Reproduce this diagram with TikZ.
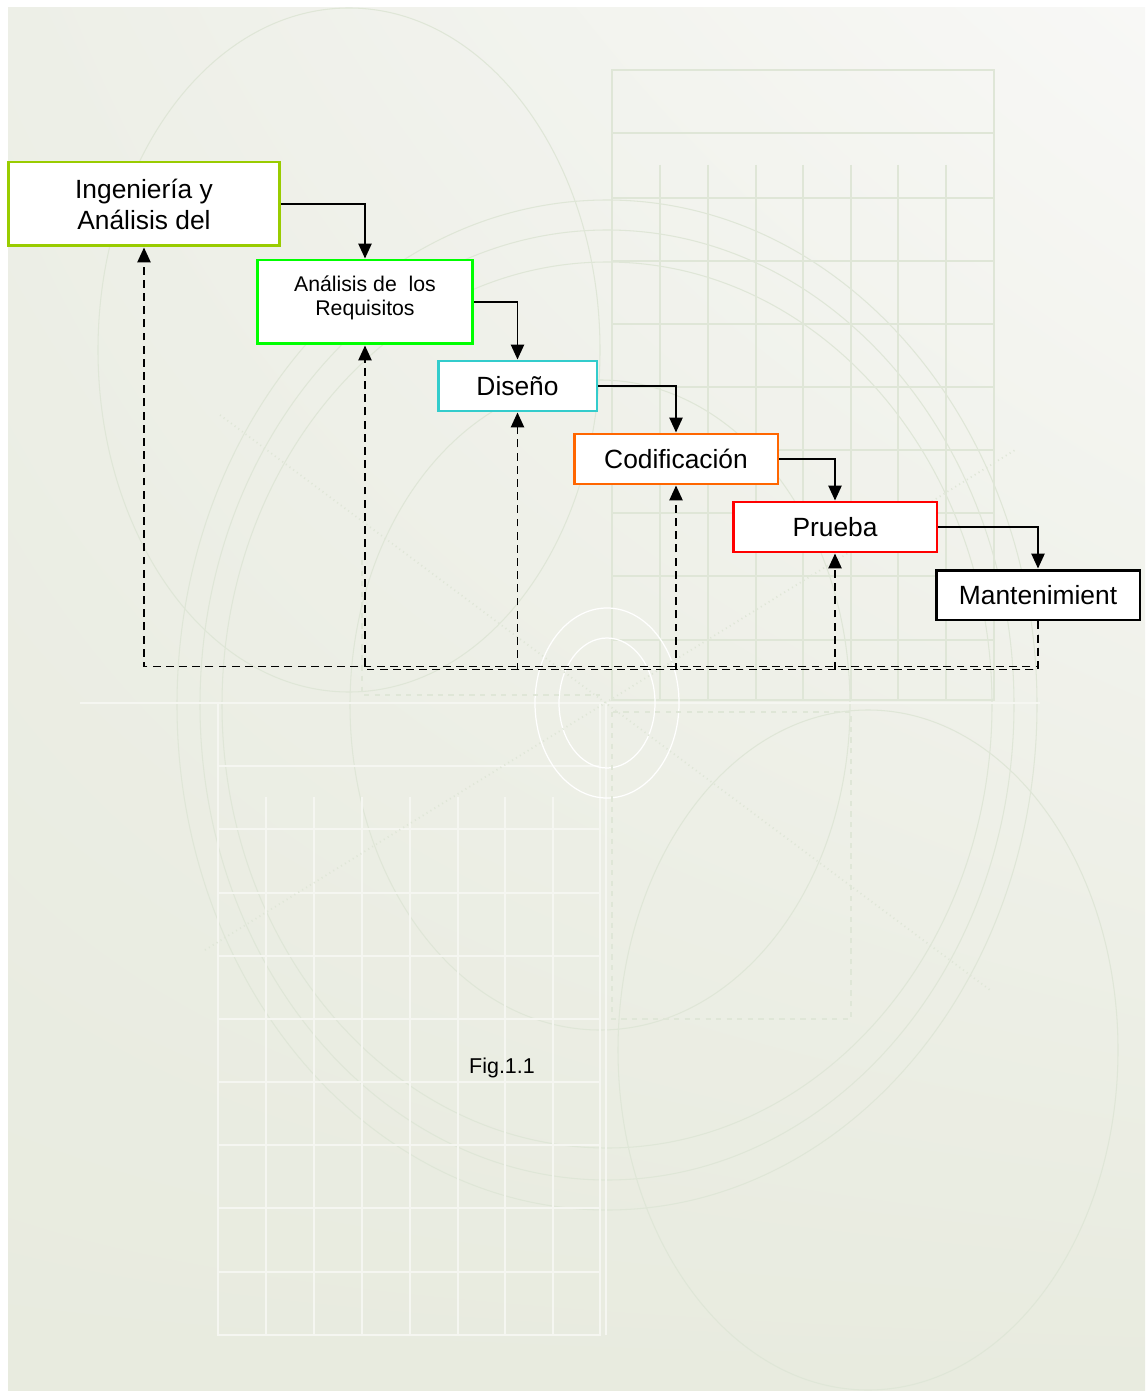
\documentclass[tikz,border=0pt]{standalone}
\usepackage{fontspec}
\setmainfont{Liberation Sans}
\usetikzlibrary{arrows.meta,shadings}
\definecolor{bgclaro}{HTML}{F8F8F6}
\definecolor{bgmedio}{HTML}{EDEFE7}
\definecolor{bgoscuro}{HTML}{E8EBDF}
\definecolor{trazo}{HTML}{DFE6D7}
\definecolor{rejilla}{HTML}{F5F6F1}
\definecolor{verdelima}{HTML}{99CC00}
\definecolor{verde}{HTML}{00FF00}
\definecolor{turquesa}{HTML}{33CCCC}
\definecolor{naranja}{HTML}{FF6600}
\definecolor{rojo}{HTML}{FF0000}
\begin{document}
\begin{tikzpicture}[x=0.02cm,y=-0.02cm,
    etapa/.style={draw,fill=white,line width=1.7pt,inner sep=0pt,align=center,
      minimum width=4.08cm,minimum height=1cm,font=\fontsize{15}{17.6}\selectfont},
    flecha/.style={-{Triangle[width=7.5pt,length=8.5pt]},line width=1.1pt},
    retro/.style={flecha,dash pattern=on 4.5pt off 3pt},
    fondo/.style={draw=trazo,line width=0.6pt},
    blanco/.style={draw=rejilla,line width=0.7pt}]
    \useasboundingbox (0,0) rectangle (1145,1391);
    % ---- fondo ----
    \shade[upper left=bgmedio,upper right=bgclaro,lower left=bgoscuro,lower right=bgoscuro]
      (8,8) rectangle (1145,1390);
    \draw[fondo] (349,350) ellipse [x radius=251, y radius=342];
    \foreach \rx/\ry in {430/505,407/475,385/443}
      \draw[fondo] (607,705) ellipse [x radius=\rx, y radius=\ry];
    \draw[fondo] (600,705) ellipse [x radius=250, y radius=325];
    \draw[fondo] (868,1050) ellipse [x radius=250, y radius=340];
    \draw[fondo] (612,70) rectangle (994,700);
    \draw[fondo] (612,133) -- (994,133);
    \foreach \x in {660,708,756,803,851,898,946}
      \draw[fondo] (\x,165) -- (\x,700);
    \foreach \y in {198,261,324,387,450,513,576,640}
      \draw[fondo] (612,\y) -- (994,\y);
    \draw[blanco] (218,703) rectangle (600,1335);
    \draw[blanco] (606,703) -- (606,1335);
    \foreach \x in {266,314,362,410,458,505,553}
      \draw[blanco] (\x,797) -- (\x,1335);
    \foreach \y in {766,829,893,956,1019,1082,1145,1208,1272}
      \draw[blanco] (218,\y) -- (600,\y);
    \draw[blanco,line width=1pt] (80,703) -- (1040,703);
    \draw[white,line width=0.7pt] (607,703) ellipse [x radius=72, y radius=95];
    \draw[white,line width=0.7pt] (607,703) ellipse [x radius=48, y radius=65];
    \draw[fondo,dashed,line width=1pt] (612,712) rectangle (851,1019);
    \draw[fondo,dashed,line width=1pt] (362,560) -- (362,695) -- (600,695);
    \draw[fondo,dotted,line width=1pt] (220,415) -- (990,990);
    \draw[fondo,dotted,line width=1pt] (205,950) -- (1015,450);
    % ---- etapas ----
    \node[etapa,draw=verdelima,minimum width=5.44cm,minimum height=1.68cm] (ing) at (144,204)
      {Ingeniería y\\Análisis del};
    \node[etapa,draw=verde,minimum width=4.32cm,minimum height=1.68cm,
      font=\fontsize{12.1}{13.6}\selectfont] (req) at (365,302) {Análisis de\ \ los\\Requisitos\\[-6.8pt]};
    \node[etapa,draw=turquesa,minimum width=3.18cm] (dis) at (517.5,386) {Diseño};
    \node[etapa,draw=naranja] (cod) at (676,459) {Codificación};
    \node[etapa,draw=rojo] (pru) at (835,527) {Prueba};
    \node[etapa,draw=black] (man) at (1038,595) {Mantenimient};
    \node[font=\fontsize{12.2}{14}\selectfont] (fig) at (502,1068) {Fig.1.1};
    % ---- cascada ----
    \draw[flecha] (ing.east) -| (req.north);
    \draw[flecha] (req.east) -| (dis.north);
    \draw[flecha] (dis.east) -| (cod.north);
    \draw[flecha] (cod.east) -| (pru.north);
    \draw[flecha] (pru.east) -| (man.north);
    % ---- retroalimentacion ----
    \draw[retro] (man.south) -- ++(0,45) -| (ing.south);
    \foreach \etapa in {req,dis,cod,pru}
      \draw[retro] (man.south) -- ++(0,48) -| (\etapa.south);
  \end{tikzpicture}
\end{document}
